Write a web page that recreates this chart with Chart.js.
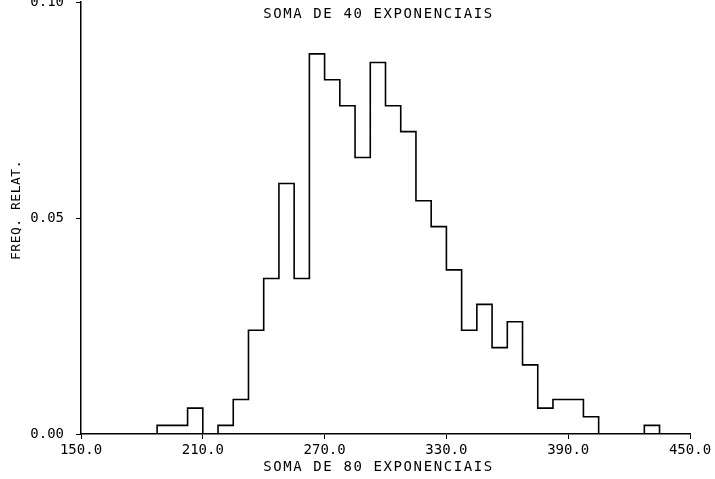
<!DOCTYPE html>
<html>
<head>
<meta charset="utf-8">
<script src="https://cdn.jsdelivr.net/npm/chart.js"></script>
<style>
  html, body { margin: 0; padding: 0; background: #fff; }
  #wrap { width: 715px; height: 479px; }
</style>
</head>
<body>
<div id="wrap"><canvas id="hist" width="715" height="479"></canvas></div>
<script>
// histogram of relative frequencies, 40 bins of width 7.5 from 150 to 450
var binStart = 150;
var binWidth = 7.5;
var freqs = [
  0, 0, 0, 0, 0,
  0.002, 0.002, 0.006, 0, 0.002,
  0.008, 0.024, 0.036, 0.058, 0.036,
  0.088, 0.082, 0.076, 0.064, 0.086,
  0.076, 0.070, 0.054, 0.048, 0.038,
  0.024, 0.030, 0.020, 0.026, 0.016,
  0.006, 0.008, 0.008, 0.004, 0,
  0, 0, 0.002, 0, 0
];
var xTicks = [150, 210, 270, 330, 390, 450];
var yTicks = [0, 0.05, 0.10];
var titleText = 'SOMA DE 40 EXPONENCIAIS';
var xLabel = 'SOMA DE 80 EXPONENCIAIS';
var yLabel = 'FREQ. RELAT.';

var FONT = '"DejaVu Sans Mono", monospace';

// step outline: each bin value held from its left edge to the next edge
var pts = freqs.map(function (f, i) { return { x: binStart + i * binWidth, y: f }; });
pts.push({ x: binStart + freqs.length * binWidth, y: 0 });

var textPlugin = {
  id: 'plotText',
  afterDraw: function (chart) {
    var ctx = chart.ctx;
    var a = chart.chartArea;
    var cx = (a.left + a.right) / 2 - 7;
    ctx.save();
    ctx.fillStyle = '#000';
    ctx.font = '14px ' + FONT;
    ctx.letterSpacing = '1.6px';
    ctx.textAlign = 'center';
    ctx.textBaseline = 'middle';
    ctx.fillText(titleText, cx, 14);
    ctx.fillText(xLabel, cx, 467);
    ctx.font = '13px ' + FONT;
    ctx.letterSpacing = '0.5px';
    ctx.translate(17, (a.top + a.bottom) / 2 - 8);
    ctx.rotate(-Math.PI / 2);
    ctx.fillText(yLabel, 0, 0);
    ctx.restore();
  }
};

new Chart(document.getElementById('hist'), {
  type: 'line',
  data: {
    datasets: [{
      data: pts,
      stepped: 'before',
      borderColor: '#000',
      borderWidth: 1.6,
      pointRadius: 0,
      fill: false
    }]
  },
  options: {
    responsive: false,
    animation: false,
    layout: { padding: { top: 2, right: 25, left: 0, bottom: 0 } },
    plugins: { legend: { display: false }, tooltip: { enabled: false } },
    scales: {
      x: {
        type: 'linear',
        min: xTicks[0],
        max: xTicks[xTicks.length - 1],
        afterBuildTicks: function (s) { s.ticks = xTicks.map(function (v) { return { value: v }; }); },
        afterFit: function (s) { s.height = 45; },
        grid: { drawOnChartArea: false, tickLength: 5, color: '#000', lineWidth: 1 },
        border: { display: true, color: '#000', width: 1.5 },
        ticks: {
          color: '#000',
          padding: 3,
          maxRotation: 0,
          font: { family: FONT, size: 14 },
          callback: function (v) { return v.toFixed(1); }
        }
      },
      y: {
        type: 'linear',
        min: yTicks[0],
        max: yTicks[yTicks.length - 1],
        afterBuildTicks: function (s) { s.ticks = yTicks.map(function (v) { return { value: v }; }); },
        afterFit: function (s) { s.width = 81; s.paddingTop = 0; s.paddingBottom = 0; },
        grid: { drawOnChartArea: false, tickLength: 5, color: '#000', lineWidth: 1 },
        border: { display: true, color: '#000', width: 1.5 },
        ticks: {
          color: '#000',
          padding: 12,
          font: { family: FONT, size: 14 },
          callback: function (v) { return v.toFixed(2); }
        }
      }
    }
  },
  plugins: [textPlugin]
});
</script>
</body>
</html>
